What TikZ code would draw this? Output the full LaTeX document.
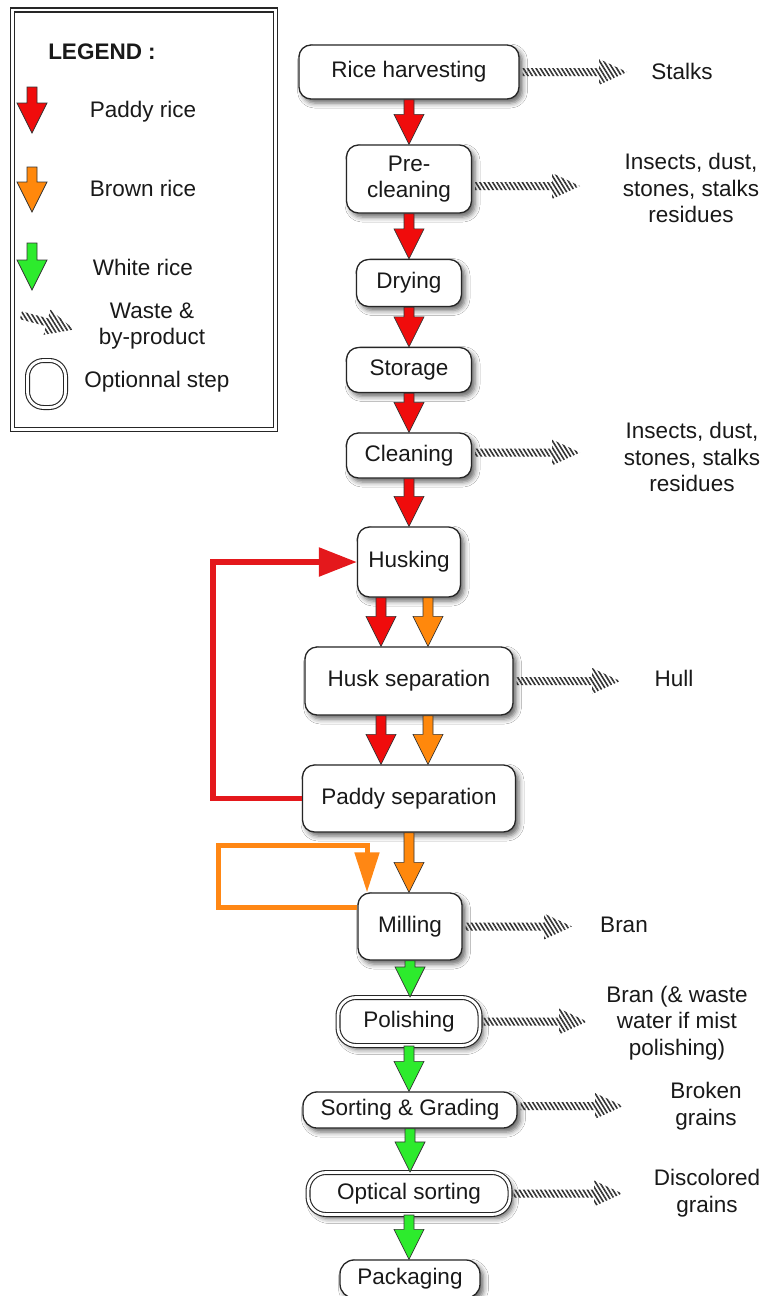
\documentclass[tikz,border=0pt]{standalone}
\usepackage{fontspec}
\setmainfont{Liberation Sans}
\usetikzlibrary{calc,arrows.meta,patterns.meta,shadows.blur}
\definecolor{pred}{RGB}{240,12,12}
\definecolor{porange}{RGB}{255,136,12}
\definecolor{pgreen}{RGB}{45,235,45}
\definecolor{lred}{RGB}{228,24,28}
\definecolor{lorange}{RGB}{255,135,20}
\tikzset{
  every node/.style={font=\fontsize{22.5}{26.5}\selectfont, text=black!90},
  stepbox/.style={draw=black!85, line width=1.3pt, fill=white, rounded corners=12pt,
    align=center, inner sep=0pt,
    blur shadow={shadow xshift=3.5pt, shadow yshift=-4pt, shadow blur radius=5pt, shadow opacity=60}},
  optbox/.style={stepbox, line width=1.1pt, double=white, double distance=2.8pt, rounded corners=18pt},
  wastetext/.style={align=center, inner sep=0pt},
  blockarrow/.style={draw=black!80, line width=0.7pt,
    to path={let \p1=(\tikztostart), \p2=(\tikztotarget) in
      (\x1-5pt,\y1) -- (\x1-5pt,\y2+30pt) -- (\x1-15pt,\y2+30pt) -- (\x1,\y2)
      -- (\x1+15pt,\y2+30pt) -- (\x1+5pt,\y2+30pt) -- (\x1+5pt,\y1) -- cycle}},
  redarrow/.style={blockarrow, fill=pred},
  orangearrow/.style={blockarrow, fill=porange},
  greenarrow/.style={blockarrow, fill=pgreen},
  waste/.style={pattern={Lines[angle=-58,distance=3.6pt,line width=1.6pt]}, pattern color=black!80,
    to path={let \p1=(\tikztostart), \p2=(\tikztotarget) in
      (\x1+3pt,\y1-4pt) rectangle (\x2-25pt,\y1+4pt)
      (\x2-28pt,\y1+13pt) -- (\x2,\y1) -- (\x2-28pt,\y1-13pt) -- cycle}},
  redloop/.style={draw=lred, line width=5.5pt, -{Triangle[length=38pt,width=28pt]}},
  orangeloop/.style={draw=lorange, line width=5pt, -{Triangle[length=40pt,width=24pt]}},
}
\begin{document}
\begin{tikzpicture}[x=1pt,y=-1pt]
\useasboundingbox[fill=white] (0,0) rectangle (763,1296);

% ---------- legend ----------
\draw[black!85, line width=1.4pt, double=white, double distance=2.6pt] (12.5,10) rectangle (275.5,429.5);
\node[font=\fontsize{22.5}{26}\selectfont\bfseries] (leg) at (102,52) {LEGEND :};
\coordinate (lr1) at (32,87);  \coordinate (lr2) at (32,133);
\coordinate (lb1) at (32,167); \coordinate (lb2) at (32,212);
\coordinate (lg1) at (32,243); \coordinate (lg2) at (32,290);
\path[redarrow] (lr1) to (lr2);
\path[orangearrow] (lb1) to (lb2);
\path[greenarrow] (lg1) to (lg2);
\node (tpaddy) at (143,112) {Paddy rice};
\node (tbrown) at (143,188) {Brown rice};
\node (twhite) at (143,267) {White rice};
\node[align=center] (twaste) at (152,326) {Waste \&\\by-product};
\node (topt) at (157,382) {Optionnal step};
\begin{scope}[transform canvas={rotate around={-15:(46,322)}}]
  \coordinate (lw1) at (17,322); \coordinate (lw2) at (75,322);
  \path[waste] (lw1) to (lw2);
\end{scope}
\node[draw=black!85, line width=1.1pt, double=white, double distance=2.8pt, rounded corners=16pt,
  minimum width=38pt, minimum height=47pt] (lopt) at (46.5,384) {};

% ---------- process steps ----------
\node[stepbox, minimum width=220pt, minimum height=54pt] (harv) at (409,72) {Rice harvesting};
\node[stepbox, minimum width=125pt, minimum height=68pt] (precl) at (409,179) {Pre-\\cleaning};
\node[stepbox, minimum width=105pt, minimum height=47pt] (dry) at (409,283) {Drying};
\node[stepbox, minimum width=125pt, minimum height=45pt] (stor) at (409,370) {Storage};
\node[stepbox, minimum width=125pt, minimum height=45pt] (clean) at (409,455.5) {Cleaning};
\node[stepbox, minimum width=103pt, minimum height=70pt] (husk) at (409,562) {Husking};
\node[stepbox, minimum width=208pt, minimum height=68pt] (hsep) at (409,681) {Husk separation};
\node[stepbox, minimum width=213pt, minimum height=67pt] (psep) at (409,798.5) {Paddy separation};
\node[stepbox, minimum width=104pt, minimum height=67pt] (mill) at (410,926.5) {Milling};
\node[optbox, minimum width=142pt, minimum height=48pt] (pol) at (409,1021.5) {Polishing};
\node[stepbox, minimum width=214pt, minimum height=36pt, rounded corners=14pt] (sort) at (410,1110) {Sorting \& Grading};
\node[optbox, minimum width=202pt, minimum height=42pt] (opt) at (409,1193.5) {Optical sorting};
\node[stepbox, minimum width=140pt, minimum height=38pt, rounded corners=14pt] (pack) at (410,1279) {Packaging};

% ---------- flow arrows ----------
\path[redarrow] (harv.south) to (precl.north);
\path[redarrow] (precl.south) to (dry.north);
\path[redarrow] (dry.south) to (stor.north);
\path[redarrow] (stor.south) to (clean.north);
\path[redarrow] (clean.south) to (husk.north);
\path[redarrow] ([xshift=-28pt]husk.south) to ([xshift=-28pt]hsep.north);
\path[orangearrow] ([xshift=19pt]husk.south) to ([xshift=19pt]hsep.north);
\path[redarrow] ([xshift=-28pt]hsep.south) to ([xshift=-28pt]psep.north);
\path[orangearrow] ([xshift=19pt]hsep.south) to ([xshift=19pt]psep.north);
\path[orangearrow] (psep.south) to ([xshift=-1pt]mill.north);
\path[greenarrow] (mill.south) to (pol.north);
\path[greenarrow] (pol.south) to (sort.north);
\path[greenarrow] (sort.south) to (opt.north);
\path[greenarrow] (opt.south) to (pack.north);

% ---------- recycling loops ----------
\coordinate (rl) at (213,562);
\draw[redloop] (psep.west) -| (rl) -- (husk.west);
\coordinate (ol) at (218,845);
\draw[orangeloop] ([yshift=19pt]mill.west) -| (ol) -| ([xshift=-43pt]mill.north);

% ---------- waste & by-products ----------
\coordinate (w1) at (627,72);
\coordinate (w2) at (580,186);
\coordinate (w3) at (580,452);
\coordinate (w4) at (620,679);
\coordinate (w5) at (572,925);
\coordinate (w6) at (587,1022);
\coordinate (w7) at (623,1106);
\coordinate (w8) at (622,1192);
\path[waste] (harv.east) to (w1);
\path[waste] ([yshift=-7pt]precl.east) to (w2);
\path[waste] ([yshift=3pt]clean.east) to (w3);
\path[waste] (hsep.east) to (w4);
\path[waste] (mill.east) to (w5);
\path[waste] (pol.east) to (w6);
\path[waste] ([yshift=4pt]sort.east) to (w7);
\path[waste] (opt.east) to (w8);

\node[wastetext] (t1) at (682,71) {Stalks};
\node[wastetext] (t2) at (691,188) {Insects, dust,\\stones, stalks\\residues};
\node[wastetext] (t3) at (692,457) {Insects, dust,\\stones, stalks\\residues};
\node[wastetext] (t4) at (674,678) {Hull};
\node[wastetext] (t5) at (624,925) {Bran};
\node[wastetext] (t6) at (677,1023) {Bran (\& waste\\water if mist\\polishing)};
\node[wastetext] (t7) at (706,1106) {Broken\\grains};
\node[wastetext] (t8) at (707,1193) {Discolored\\grains};
\end{tikzpicture}
\end{document}
